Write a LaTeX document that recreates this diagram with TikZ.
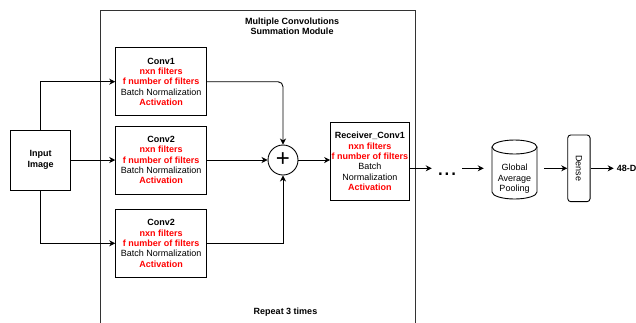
\documentclass[tikz,border=0pt]{standalone}
\usepackage{fontspec}
\setmainfont{Liberation Sans}
\usepackage{graphicx}
\usetikzlibrary{arrows.meta}
\newcommand\redb[1]{\textcolor{red}{\textbf{#1}}}
\begin{document}
\begin{tikzpicture}[x=1pt,y=-1pt,
  every node/.style={font=\fontsize{9}{10.3}\selectfont, inner sep=0pt, align=center},
  box/.style={draw, line width=0.9pt},
  arr/.style={line width=0.9pt, -{Stealth[length=6pt,width=6pt,inset=1.8pt]}},
  ln/.style={line width=0.9pt}]
\useasboundingbox (0,0) rectangle (636,322);
\clip (0,0) rectangle (636,322);

% module frame
\node[draw=black!80, line width=1.2pt, minimum width=315, minimum height=330, anchor=north west] (module) at (100,10) {};
\node (title) at (292,26) {\textbf{Multiple Convolutions}\\\textbf{Summation Module}};
\node (rep) at (285.5,312) {\textbf{Repeat 3 times}};

% boxes
\node[box, minimum width=60, minimum height=60] (inp) at (40.7,160) {\textbf{Input}\\\textbf{Image}};
\node[box, minimum width=91, minimum height=68] (c1) at (161.2,81.7)
  {\textbf{Conv1}\\\redb{nxn filters}\\\redb{f number of filters}\\Batch Normalization\\\redb{Activation}};
\node[box, minimum width=91, minimum height=68] (c2) at (161.2,160)
  {\textbf{Conv2}\\\redb{nxn filters}\\\redb{f number of filters}\\Batch Normalization\\\redb{Activation}};
\node[box, minimum width=91, minimum height=68] (c3) at (161.2,243.3)
  {\textbf{Conv2}\\\redb{nxn filters}\\\redb{f number of filters}\\Batch Normalization\\\redb{Activation}};
\node[draw, circle, minimum size=30, line width=0.9pt] (plus) at (283,160) {\fontsize{24}{24}\selectfont +};
\node[box, minimum width=78.3, minimum height=78.4] (recv) at (369.8,161.5)
  {\textbf{Receiver\_Conv1}\\\redb{nxn filters}\\\redb{f number of filters}\\Batch\\Normalization\\\redb{Activation}};

\coordinate (row) at (0,168.3);
\node[minimum width=30] (dots) at (447,174.3) {\fontsize{24}{24}\selectfont ...};

% cylinder
\node[minimum width=45, minimum height=59] (gap) at (514.5,169.5) {};
\node (gaptext) at (514.5,178.8) {Global\\Average\\Pooling};
\draw[ln] (514.5,147) ellipse [x radius=22.5, y radius=7];
\draw[ln] (492,147) -- (492,192) arc[start angle=180, end angle=0, x radius=22.5, y radius=7] -- (537,147);

\node[draw, rounded corners=3, line width=0.9pt, minimum width=22.3, minimum height=66.7] (dense) at (578.9,168.3) {\rotatebox{-90}{Dense}};
\node[anchor=west] (out) at (616.7,168.3) {\textbf{48-D}};

% connectors
\draw[arr] (inp.north) |- (c1.west);
\draw[arr] (inp.east) -- (c2.west);
\draw[arr] (inp.south) |- (c3.west);
\draw[arr, rounded corners=5] (c1.east) -| (plus.north);
\draw[arr] (c2.east) -- (plus.west);
\draw[arr] (c3.east) -| (plus.south);
\draw[arr] (plus.east) -- (recv.west |- plus.east);
\draw[arr] (recv.east |- row) -- (dots.west |- row);
\draw[arr, shorten >=8pt] (dots.east |- row) -- (gap.west |- row);
\draw[arr, shorten <=7pt] (gap.east |- row) -- (dense.west);
\draw[arr, shorten >=3pt] (dense.east) -- (out.west);
\end{tikzpicture}
\end{document}
